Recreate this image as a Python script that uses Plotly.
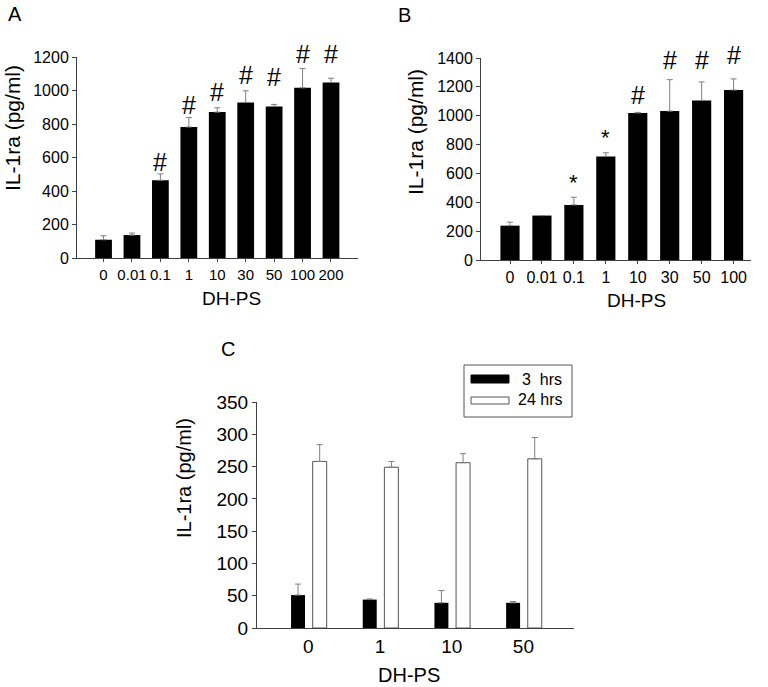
import plotly.graph_objects as go

# ---------------- data ----------------
a_doses = ["0", "0.01", "0.1", "1", "10", "30", "50", "100", "200"]
a_values = [109, 137, 464, 782, 871, 929, 905, 1016, 1048]
a_err = [24, 12, 38, 57, 26, 69, 12, 115, 25]
a_marks = ["", "", "#", "#", "#", "#", "#", "#", "#"]
a_mark_y = [0, 0, 573, 913, 994, 1090, 1078, 1215, 1215]

b_doses = ["0", "0.01", "0.1", "1", "10", "30", "50", "100"]
b_values = [238, 308, 382, 718, 1019, 1032, 1106, 1178]
b_err = [24, 0, 53, 25, 4, 218, 128, 77]
b_marks = ["", "", "*", "*", "#", "#", "#", "#"]
b_mark_y = [0, 0, 540, 852, 1143, 1386, 1386, 1421]

c_doses = ["0", "1", "10", "50"]
c_3h = [51, 44, 39, 39]
c_3h_err = [17, 1, 19, 2]
c_24h = [258, 249, 256, 262]
c_24h_err = [26, 9, 14, 33]
c_series = ["3  hrs", "24 hrs"]

A_MAX, B_MAX, C_MAX = 1200, 1400, 350

FONT = "Liberation Sans"
AX = "#404040"
ERR = "#808080"
W, H = 768, 687

fig = go.Figure()

def err(vals):
    return dict(type="data", array=vals, arrayminus=[0] * len(vals), symmetric=False,
                color=ERR, thickness=1, width=3)

fig.add_trace(go.Bar(x=list(range(len(a_doses))), y=a_values, width=0.59,
                     marker=dict(color="black", line=dict(width=0)),
                     error_y=err(a_err), xaxis="x", yaxis="y", showlegend=False))
fig.add_trace(go.Bar(x=list(range(len(b_doses))), y=b_values, width=0.6,
                     marker=dict(color="black", line=dict(width=0)),
                     error_y=err(b_err), xaxis="x2", yaxis="y2", showlegend=False))
fig.add_trace(go.Bar(x=list(range(len(c_doses))), y=c_3h, width=0.195, offset=-0.241,
                     name=c_series[0], marker=dict(color="black", line=dict(width=0)),
                     error_y=err(c_3h_err), xaxis="x3", yaxis="y3", showlegend=False))
fig.add_trace(go.Bar(x=list(range(len(c_doses))), y=c_24h, width=0.195, offset=0.061,
                     name=c_series[1], marker=dict(color="white", line=dict(width=1, color="#555555")),
                     error_y=err(c_24h_err), xaxis="x3", yaxis="y3", showlegend=False))

def xax(domain, rng, labels, anchor, fs, ticklen=3, standoff=0):
    return dict(domain=domain, range=rng, anchor=anchor, showline=True, linecolor=AX, linewidth=1,
                ticks="outside", ticklen=ticklen, tickcolor=AX, tickangle=0, automargin=False,
                tickvals=list(range(len(labels))), ticktext=labels,
                tickfont=dict(size=fs, color="black", family=FONT),
                ticklabelstandoff=standoff, showgrid=False, zeroline=False, fixedrange=True)

def yax(domain, rng, dtick, anchor, fs):
    return dict(domain=domain, range=rng, anchor=anchor, showline=True, linecolor=AX, linewidth=1,
                ticks="outside", ticklen=4, tickcolor=AX, dtick=dtick, automargin=False,
                tickfont=dict(size=fs, color="black", family=FONT),
                showgrid=False, zeroline=False, fixedrange=True)

fig.update_layout(
    template="none",
    width=W, height=H, margin=dict(l=0, r=0, t=0, b=0, pad=0, autoexpand=False),
    paper_bgcolor="white", plot_bgcolor="white",
    font=dict(family=FONT, color="black"),
    barmode="overlay",
    xaxis=xax([77 / W, 358 / W], [-0.933, 8.95], a_doses, "y", 15),
    yaxis=yax([1 - 258 / H, 1 - 57 / H], [0, A_MAX], 200, "x", 16),
    xaxis2=xax([481 / W, 751 / W], [-0.908, 7.545], b_doses, "y2", 16),
    yaxis2=yax([1 - 260 / H, 1 - 58 / H], [0, B_MAX], 200, "x2", 16),
    xaxis3=xax([257 / W, 574 / W], [-0.716, 3.706], c_doses, "y3", 19, ticklen=0, standoff=1),
    yaxis3=yax([1 - 628 / H, 1 - 402 / H], [0, C_MAX], 50, "x3", 19),
)

def mark_font(m):
    return dict(size=25 if m == "#" else 22, color="black", family=FONT)

anns = []
for i, (m, y) in enumerate(zip(a_marks, a_mark_y)):
    if m:
        anns.append(dict(x=i, y=y / A_MAX, xref="x", yref="y domain", text=m, showarrow=False,
                         font=mark_font(m), yanchor="middle"))
for i, (m, y) in enumerate(zip(b_marks, b_mark_y)):
    if m:
        anns.append(dict(x=i, y=y / B_MAX, xref="x2", yref="y2 domain", text=m, showarrow=False,
                         font=mark_font(m), yanchor="middle"))

def pann(text, x, y, size, angle=0, anchor="center"):
    return dict(x=x / W, y=1 - y / H, xref="paper", yref="paper", text=text, showarrow=False,
                textangle=angle, xanchor=anchor, yanchor="middle",
                font=dict(size=size, color="black", family=FONT))

# panel letters
anns += [pann("A", 15, 14, 20), pann("B", 404, 15, 20), pann("C", 228, 349, 20)]
# axis titles
anns += [pann("IL-1ra (pg/ml)", 12, 128, 21, -90), pann("IL-1ra (pg/ml)", 415, 132, 21, -90),
         pann("IL-1ra (pg/ml)", 184, 478, 20, -90),
         pann("DH-PS", 231, 298, 19), pann("DH-PS", 636, 301, 19), pann("DH-PS", 409, 675, 20)]

# legend for panel C (drawn box, swatches, labels)
shapes = [
    dict(type="rect", xref="paper", yref="paper", x0=464 / W, x1=572 / W, y0=1 - 417 / H, y1=1 - 365 / H,
         line=dict(color="#555555", width=1), fillcolor="white"),
    dict(type="rect", xref="paper", yref="paper", x0=471 / W, x1=509 / W, y0=1 - 383 / H, y1=1 - 375 / H,
         line=dict(color="black", width=1), fillcolor="black"),
    dict(type="rect", xref="paper", yref="paper", x0=471 / W, x1=509 / W, y0=1 - 404 / H, y1=1 - 397 / H,
         line=dict(color="#555555", width=1), fillcolor="white"),
]
anns.append(pann(c_series[0].replace("  ", "&nbsp; "), 564, 379, 16, anchor="right"))
anns.append(pann(c_series[1], 564, 400, 16, anchor="right"))

fig.update_layout(annotations=anns, shapes=shapes)
fig.write_html("out.html", config={"displayModeBar": False},
               post_script="document.body.style.margin='0';document.body.style.overflow='hidden';")
